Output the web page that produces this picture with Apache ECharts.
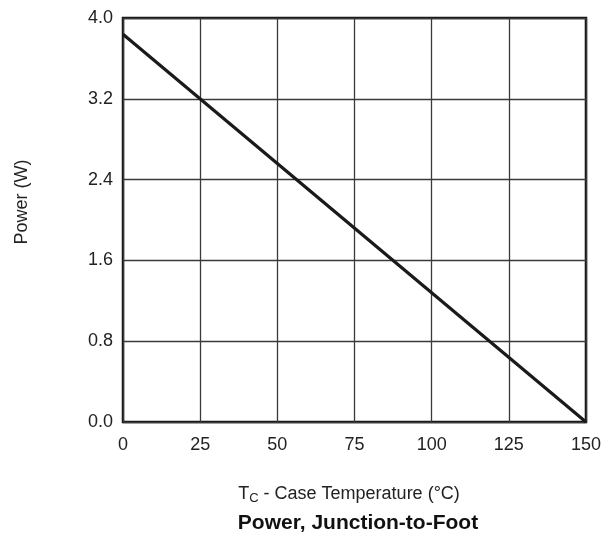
<!DOCTYPE html>
<html>
<head>
<meta charset="utf-8">
<script src="https://cdn.jsdelivr.net/npm/echarts@6/dist/echarts.min.js"></script>
<style>
html,body{margin:0;padding:0;background:#fff;}
#c{width:604px;height:535px;}
</style>
</head>
<body>
<div id="c"></div>
<script>
var temperature = [0, 150];
var power = [3.84, 0];
var xTicks = [0, 25, 50, 75, 100, 125, 150];
var yTicks = [0.0, 0.8, 1.6, 2.4, 3.2, 4.0];
var xTitle = ['T', 'C', ' - Case Temperature (°C)'];
var yTitle = 'Power (W)';
var chartTitle = 'Power, Junction-to-Foot';

var FONT = '"Liberation Sans", Arial, Helvetica, sans-serif';
var chart = echarts.init(document.getElementById('c'), null, {renderer: 'canvas'});
chart.setOption({
  animation: false,
  backgroundColor: '#fff',
  grid: {left: 123, right: 16, top: 18, bottom: 113, show: true, borderColor: '#111', borderWidth: 2.5, containLabel: false},
  xAxis: {
    type: 'value', min: xTicks[0], max: xTicks[xTicks.length - 1], interval: 25,
    axisLine: {show: false}, axisTick: {show: false},
    splitLine: {show: true, lineStyle: {color: '#3a3a3a', width: 1.3}},
    axisLabel: {color: '#222', fontSize: 18, fontFamily: FONT, margin: 14}
  },
  yAxis: {
    type: 'value', min: yTicks[0], max: yTicks[yTicks.length - 1], interval: 0.8,
    axisLine: {show: false}, axisTick: {show: false},
    splitLine: {show: true, lineStyle: {color: '#3a3a3a', width: 1.3}},
    axisLabel: {color: '#222', fontSize: 18, fontFamily: FONT, margin: 10,
      formatter: function (v) { return v.toFixed(1); }}
  },
  series: [{
    type: 'line', data: temperature.map(function (t, i) { return [t, power[i]]; }),
    symbol: 'none', lineStyle: {color: '#1a1a1a', width: 3.2}, z: 5
  }],
  graphic: [
    {type: 'text', x: 22, y: 202, rotation: Math.PI / 2, style: {text: yTitle, fill: '#222', font: '18px ' + FONT, align: 'center', verticalAlign: 'middle'}},
    {type: 'text', x: 349, y: 494, style: {
      text: '{a|' + xTitle[0] + '}{b|' + xTitle[1] + '}{a|' + xTitle[2] + '}',
      align: 'center', verticalAlign: 'middle',
      rich: {
        a: {fontSize: 18, fontFamily: FONT, fill: '#222', color: '#222', lineHeight: 22},
        b: {fontSize: 13, fontFamily: FONT, fill: '#222', color: '#222', lineHeight: 22, verticalAlign: 'bottom', padding: [9, 0, 0, 0]}
      }
    }},
    {type: 'text', x: 358, y: 523, style: {text: chartTitle, fill: '#111', font: 'bold 21px ' + FONT, align: 'center', verticalAlign: 'middle'}}
  ]
});
</script>
</body>
</html>
